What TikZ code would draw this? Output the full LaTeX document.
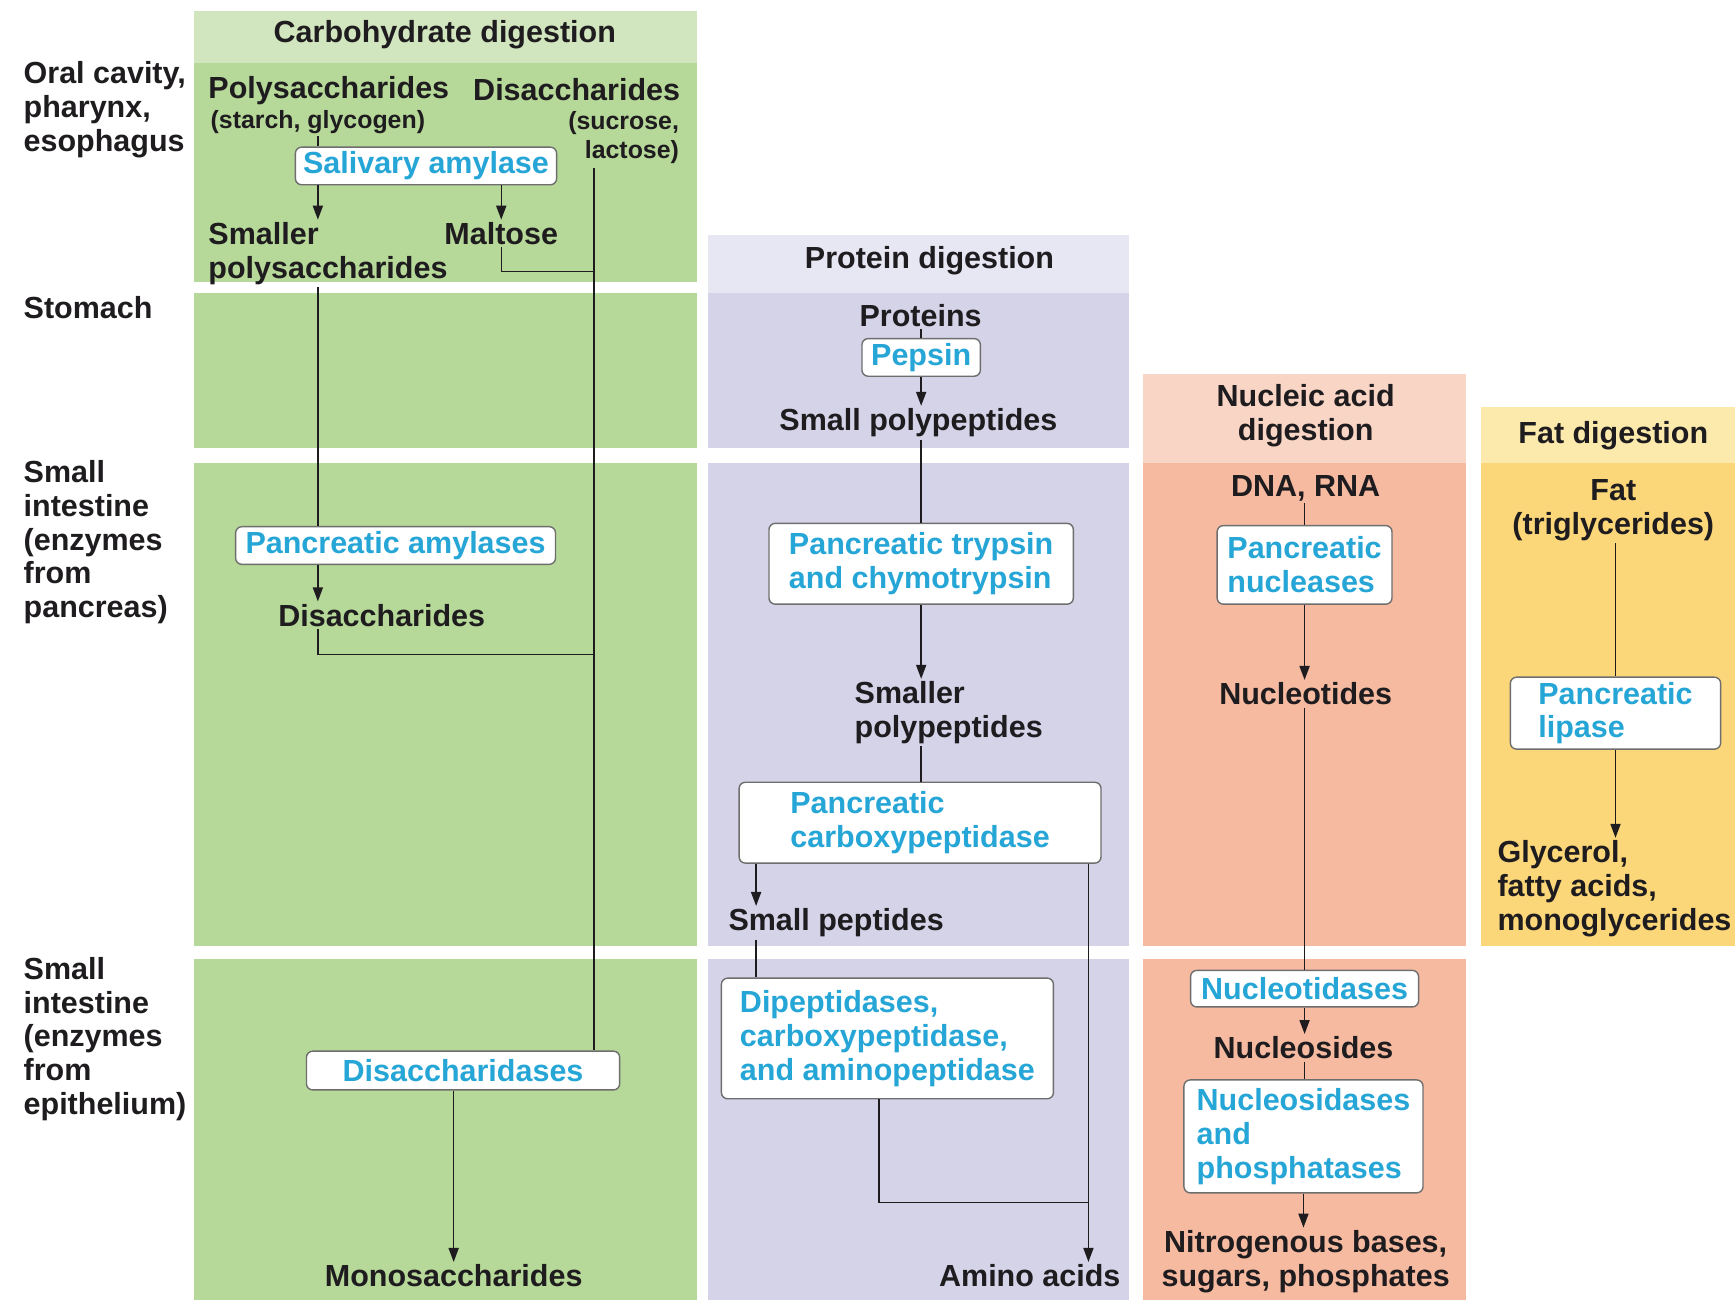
\documentclass[tikz,border=0pt]{standalone}
\usepackage{fontspec}
\setmainfont{Liberation Sans}
\usetikzlibrary{positioning,arrows.meta,calc,backgrounds}
\definecolor{ink}{RGB}{30,28,30}
\definecolor{enzblue}{RGB}{38,166,214}
\definecolor{boxln}{RGB}{110,110,110}
\definecolor{carbhd}{RGB}{209,229,190}
\definecolor{carbbd}{RGB}{182,216,152}
\definecolor{prothd}{RGB}{231,230,243}
\definecolor{protbd}{RGB}{212,211,232}
\definecolor{nuchd}{RGB}{249,213,197}
\definecolor{nucbd}{RGB}{246,186,161}
\definecolor{fathd}{RGB}{252,233,172}
\definecolor{fatbd}{RGB}{252,215,122}
\newcommand{\lblfont}{\fontsize{19.6}{21.7}\selectfont\bfseries}
\newcommand{\subfont}{\fontsize{16}{18.5}\selectfont\bfseries}

\begin{document}
\begin{tikzpicture}[
  x=0.025cm, y=-0.025cm,
  lbl/.style={font=\lblfont,text=ink,inner sep=1.5pt},
  sublbl/.style={font=\subfont,text=ink,inner sep=1.5pt},
  enz/.style={draw=boxln,fill=white,line width=0.9pt,rounded corners=4pt,align=left,text=enzblue,font=\lblfont,inner sep=2pt},
  flow/.style={-{Triangle[length=9pt,width=6.5pt]},ink,line width=0.9pt},
  link/.style={ink,line width=0.9pt},
]
\useasboundingbox (0,0) rectangle (1568,1175);
% ---- colour bands ----
\begin{scope}[on background layer]
\fill[carbhd] (175,10) rectangle (630,57);
\fill[carbbd] (175,57) rectangle (630,255);
\fill[carbbd] (175,265) rectangle (630,405);
\fill[carbbd] (175,418) rectangle (630,855);
\fill[carbbd] (175,867) rectangle (630,1175);
\fill[prothd] (640,212) rectangle (1020,265);
\fill[protbd] (640,265) rectangle (1020,405);
\fill[protbd] (640,418) rectangle (1020,855);
\fill[protbd] (640,867) rectangle (1020,1175);
\fill[nuchd] (1033,338) rectangle (1325,418);
\fill[nucbd] (1033,418) rectangle (1325,855);
\fill[nucbd] (1033,867) rectangle (1325,1175);
\fill[fathd] (1338,368) rectangle (1568,418);
\fill[fatbd] (1338,418) rectangle (1568,855);
\end{scope}
% ---- organ labels ----
\node[lbl,align=left,anchor=west] (roworal) at (19,99) {Oral cavity,\\pharynx,\\esophagus};
\node[lbl,anchor=west] (rowstom) at (19,278) {Stomach};
\node[lbl,align=left,anchor=west] (rowpanc) at (19,490) {Small\\intestine\\(enzymes\\from\\pancreas)};
\node[lbl,align=left,anchor=west] (rowepi) at (19,939) {Small\\intestine\\(enzymes\\from\\epithelium)};
% ---- carbohydrate column ----
\node[lbl] (carbhd) at (402,31) {Carbohydrate digestion};
\node[lbl,anchor=west] (poly) at (186,82) {Polysaccharides};
\node[sublbl,anchor=west] (polysub) at (188,110) {(starch, glycogen)};
\node[lbl,anchor=east] (disac) at (617,81) {Disaccharides};
\node[sublbl,align=right,anchor=east] (disub) at (616,124) {(sucrose,\\lactose)};
\node[enz,minimum width=5.9cm,minimum height=0.85cm] (salamy) at (385,150) {Salivary amylase};
\node[lbl,align=left,anchor=west] (smallpoly) at (186,229) {Smaller\\polysaccharides};
\node[lbl] (maltose) at (453,211) {Maltose};
\node[enz,minimum width=7.225cm,minimum height=0.85cm] (pamyl) at (357.5,493) {Pancreatic amylases};
\node[lbl] (disac2) at (345,556) {Disaccharides};
\node[enz,minimum width=7.075cm,minimum height=0.875cm] (disase) at (418.5,967.5) {Disaccharidases};
\node[lbl] (mono) at (410,1153) {Monosaccharides};
\coordinate (dtrunk) at (537,152);
\draw[link] (polysub.south) -- (polysub.south |- salamy.north);
\draw[flow] (polysub.south |- salamy.south) -- (polysub.south |- smallpoly.north);
\draw[flow] (salamy.south -| maltose) -- (maltose.north);
\draw[link] (maltose.south) -- ++(0,22) -| (dtrunk);
\draw[link] (dtrunk) -- (dtrunk |- disase.north);
\draw[link] (polysub.south |- smallpoly.south) -- (polysub.south |- pamyl.north);
\draw[flow] (polysub.south |- pamyl.south) -- (polysub.south |- disac2.north);
\draw[link] (polysub.south |- disac2.south) -- ++(0,23) -| (dtrunk);
\draw[flow] (disase.south -| mono) -- (mono.north);
% ---- protein column ----
\node[lbl] (prothd) at (840,236) {Protein digestion};
\node[lbl] (proteins) at (832,285) {Proteins};
\node[enz,minimum width=2.675cm,minimum height=0.85cm] (pepsin) at (832.5,323) {Pepsin};
\node[lbl] (spoly) at (830,382) {Small polypeptides};
\node[enz,minimum width=6.875cm,minimum height=1.825cm] (trypsin) at (832.5,509.5) {Pancreatic trypsin\\and chymotrypsin};
\node[lbl,align=left,anchor=west] (smpoly) at (770,644) {Smaller\\polypeptides};
\node[enz,minimum width=8.175cm,minimum height=1.825cm] (carboxy) at (831.5,743.5) {Pancreatic\\carboxypeptidase};
\node[lbl,anchor=west] (speps) at (656,834) {Small peptides};
\node[enz,minimum width=7.5cm,minimum height=2.725cm] (dipep) at (802,938.5) {Dipeptidases,\\carboxypeptidase,\\and aminopeptidase};
\node[lbl,anchor=east] (amino) at (1015,1153) {Amino acids};
\coordinate (cpL) at ($(carboxy.south west)+(16,0)$);
\coordinate (cpR) at ($(carboxy.south east)+(-12,0)$);
\coordinate (dpB) at ($(dipep.south west)+(143,0)$);
\draw[link] (proteins.south -| pepsin) -- (pepsin.north);
\draw[flow] (pepsin.south) -- (pepsin.south |- spoly.north);
\draw[link] (trypsin.north |- spoly.south) -- (trypsin.north);
\draw[flow] (trypsin.south) -- (trypsin.south |- smpoly.north);
\draw[link] (trypsin.south |- smpoly.south) -- (trypsin.south |- carboxy.north);
\draw[flow] (cpL) -- (cpL |- speps.north);
\draw[link] (cpL |- speps.south) -- (cpL |- dipep.north);
\draw[flow] (cpR) -- (cpR |- amino.north);
\draw[link] (dpB) -- ++(0,93) -| (cpR);
% ---- nucleic acid column ----
\node[lbl,align=center] (nuchd) at (1180,376) {Nucleic acid\\digestion};
\node[lbl] (dna) at (1180,441) {DNA, RNA};
\node[enz,minimum width=3.95cm,minimum height=1.775cm] (nuclease) at (1179,510.5) {Pancreatic\\nucleases};
\node[lbl] (ntides) at (1180,627) {Nucleotides};
\node[enz,minimum width=5.15cm,minimum height=0.825cm] (ntidase) at (1179,893.5) {Nucleotidases};
\node[lbl] (nsides) at (1178,947) {Nucleosides};
\node[enz,minimum width=5.4cm,minimum height=2.55cm] (nsidase) at (1178,1027) {Nucleosidases\\and\\phosphatases};
\node[lbl,align=center] (nbases) at (1180,1140) {Nitrogenous bases,\\sugars, phosphates};
\draw[link] (nuclease.north |- dna.south) -- (nuclease.north);
\draw[flow] (nuclease.south) -- (nuclease.south |- ntides.north);
\draw[link] (nuclease.south |- ntides.south) -- (nuclease.south |- ntidase.north);
\draw[flow] (ntidase.south) -- (ntidase.south |- nsides.north);
\draw[link] (ntidase.south |- nsides.south) -- (ntidase.south |- nsidase.north);
\draw[flow] (nsidase.south) -- (nsidase.south |- nbases.north);
% ---- fat column ----
\node[lbl] (fathd) at (1458,394) {Fat digestion};
\node[lbl,align=center] (fat) at (1458,461) {Fat\\(triglycerides)};
\node[enz,minimum width=4.75cm,minimum height=1.625cm] (lipase) at (1460,644.5) {Pancreatic\\lipase};
\node[lbl,align=left,anchor=west] (glyc) at (1351,803) {Glycerol,\\fatty acids,\\monoglycerides};
\draw[link] (lipase.north |- fat.south) -- (lipase.north);
\draw[flow] (lipase.south) -- (lipase.south |- glyc.north);
\end{tikzpicture}
\end{document}
